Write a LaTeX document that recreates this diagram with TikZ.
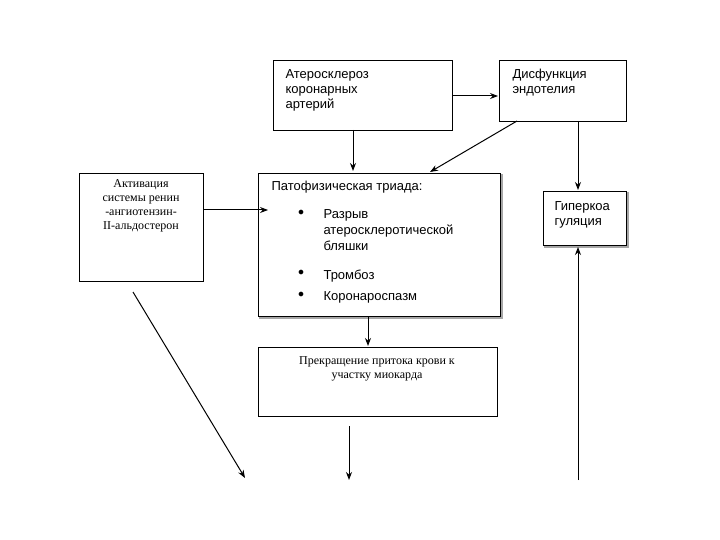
\documentclass[tikz,border=0pt]{standalone}
\usepackage{fontspec}
\setmainfont{Liberation Serif}
\newfontfamily\sansf{Liberation Sans}
\usetikzlibrary{arrows.meta}
\begin{document}
\begin{tikzpicture}[x=1pt,y=-1pt,
 box/.style={draw,line width=0.8pt,inner sep=0pt},
 shbox/.style={draw,line width=0.8pt,inner sep=0pt,fill=white,
   preaction={draw,line width=1.2pt,gray!70,transform canvas={shift={(1.5pt,-1.5pt)}}}},
 arr/.style={line width=1pt,-{Stealth[length=8pt,width=6pt]}},
 st/.style={font=\sansf\fontsize{13}{15}\selectfont,align=left,anchor=north west},
 sr/.style={font=\fontsize{12}{14}\selectfont,align=center,anchor=north}]
\useasboundingbox (0,0) rectangle (720,540);
\node[box,minimum width=179pt,minimum height=70pt,anchor=north west] (ath) at (273,60) {};
\node[st] at (282,66) {Атеросклероз\\коронарных\\артерий};
\node[box,minimum width=127pt,minimum height=61pt,anchor=north west] (dys) at (499,60) {};
\node[st] at (509,66) {Дисфункция\\эндотелия};
\node[box,minimum width=124pt,minimum height=108pt,anchor=north west] (act) at (79,173) {};
\node[sr] at (141,176) {Активация\\системы ренин\\-ангиотензин-\\II-альдостерон};
\node[shbox,minimum width=242pt,minimum height=143pt,anchor=north west] (tri) at (258,173) {};
\node[st,font=\sansf\fontsize{13}{16}\selectfont] at (268,178) {Патофизическая триада:};
\foreach \y/\t in {206/{Разрыв\\атеросклеротической\\бляшки},266/Тромбоз,288/Коронароспазм}{
 \node[font=\fontsize{12}{12}\selectfont] at (301,{\y+7}) {$\bullet$};
 \node[st,font=\sansf\fontsize{13}{16}\selectfont] at (320,\y) {\t};}
\node[shbox,minimum width=83pt,minimum height=54pt,anchor=north west] (hyp) at (543,191) {};
\node[st] at (551,198) {Гиперкоа\\гуляция};
\node[box,minimum width=239pt,minimum height=69pt,anchor=north west] (pre) at (258,347) {};
\node[sr] at (377,353) {Прекращение притока крови к\\участку миокарда};
\coordinate (e1) at (245,478);
\coordinate (e2) at (349,480);
\coordinate (s2) at (349,426);
\coordinate (s3) at (578,480);
\draw[arr] (353,130) -- (353,171);
\draw[arr] (452,96) -- (498,96);
\draw[arr] (517,121) -- (430,172);
\draw[arr] (578,121) -- (578,190);
\draw[arr] (203,210) -- (268,210);
\draw[arr] (368,316) -- (368,346);
\draw[arr] (133,292) -- (e1);
\draw[arr] (s2) -- (e2);
\draw[arr] (s3) -- (578,247);
\end{tikzpicture}
\end{document}
